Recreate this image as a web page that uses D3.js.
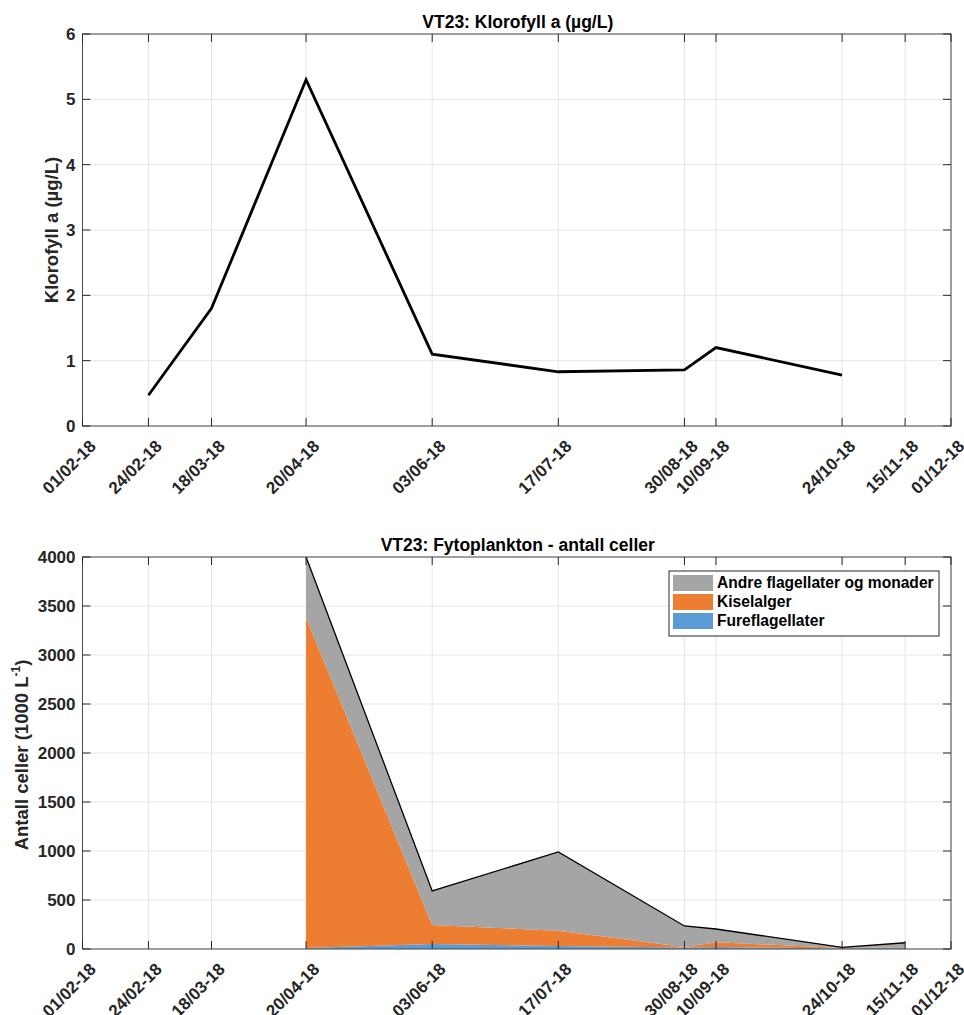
<!DOCTYPE html>
<html>
  <body style="margin:0;background:#fff">
    <div id="chart"></div>
    <script src="https://cdn.jsdelivr.net/npm/d3@7"></script>
    <script>
// VT23 chlorophyll and phytoplankton panels
var width = 964;
var height = 1015;

var tickDates = ["01/02-18", "24/02-18", "18/03-18", "20/04-18", "03/06-18", "17/07-18",
                 "30/08-18", "10/09-18", "24/10-18", "15/11-18", "01/12-18"];

// Klorofyll a
var chlDates = ["24/02-18", "18/03-18", "20/04-18", "03/06-18", "17/07-18", "30/08-18", "10/09-18", "24/10-18"];
var chlValues = [0.47, 1.8, 5.3, 1.1, 0.83, 0.86, 1.2, 0.78];

// Fytoplankton (1000 celler per L)
var cellDates = ["20/04-18", "03/06-18", "17/07-18", "30/08-18", "10/09-18", "24/10-18", "15/11-18"];
var fureflagellater = [10, 50, 30, 15, 20, 5, 15];
var kiselalger = [3370, 195, 155, 5, 50, 5, 5];
var andre = [620, 347, 805, 215, 134, 7, 44];

var groupNames = ["Fureflagellater", "Kiselalger", "Andre flagellater og monader"];
var groupColors = ["#5b9bd5", "#ed7d31", "#a5a5a5"];

var parse = d3.timeParse("%d/%m-%y");
var fontFam = "'Liberation Sans', Arial, sans-serif";

var svg = d3.select("#chart").append("svg")
  .attr("width", width)
  .attr("height", height)
  .style("font-family", fontFam);

var left = 82.5, right = 951;

var x = d3.scaleTime()
  .domain([parse("01/02-18"), parse("01/12-18")])
  .range([left, right]);

// draws the grid, title and labels for one panel
function panel(y, yTicks, title, top, bottom) {
  var g = svg.append("g");
  // grid
  g.selectAll(".vg").data(tickDates).join("line")
    .attr("x1", d => x(parse(d))).attr("x2", d => x(parse(d)))
    .attr("y1", top).attr("y2", bottom)
    .attr("stroke", "#e6e6e6").attr("stroke-width", 1);
  g.selectAll(".hg").data(yTicks).join("line")
    .attr("x1", left).attr("x2", right)
    .attr("y1", d => y(d)).attr("y2", d => y(d))
    .attr("stroke", "#e6e6e6").attr("stroke-width", 1);

  // title
  svg.append("text")
    .attr("x", (left + right) / 2 + 1).attr("y", top - 6)
    .attr("text-anchor", "middle")
    .attr("font-size", 17.5).attr("font-weight", "bold").attr("fill", "#000")
    .text(title);

  // x tick labels
  svg.selectAll(null).data(tickDates).join("text")
    .attr("transform", d => "translate(" + (x(parse(d)) + 6) + "," + (bottom + 13) + ") rotate(-45)")
    .attr("text-anchor", "end")
    .attr("dy", "0.7em")
    .attr("font-size", 17).attr("font-weight", "bold").attr("fill", "#262626")
    .text(d => d);

  // y tick labels
  svg.selectAll(null).data(yTicks).join("text")
    .attr("x", left - 7).attr("y", d => y(d))
    .attr("dy", "0.35em")
    .attr("text-anchor", "end")
    .attr("font-size", 17).attr("font-weight", "bold").attr("fill", "#262626")
    .text(d => d);
  return g;
}

function frame(y, yTicks, top, bottom) {
  var g = svg.append("g").attr("stroke", "#262626").attr("stroke-width", 1).attr("fill", "none");
  g.append("rect").attr("x", left).attr("y", top).attr("width", right - left).attr("height", bottom - top)
    .attr("stroke", "#4a4a4a");
  var tl = 8;
  g.selectAll(".xt").data(tickDates).join("path")
    .attr("d", d => {
      var xx = x(parse(d));
      return "M" + xx + "," + bottom + "v" + (-tl) + "M" + xx + "," + top + "v" + tl;
    });
  g.selectAll(".yt").data(yTicks).join("path")
    .attr("d", d => "M" + left + "," + y(d) + "h" + tl + "M" + right + "," + y(d) + "h" + (-tl));
}

// ---------- top panel ----------
var top1 = 34, bottom1 = 426;
var y1 = d3.scaleLinear().domain([0, 6]).range([bottom1, top1]);
var y1Ticks = [0, 1, 2, 3, 4, 5, 6];
panel(y1, y1Ticks, "VT23: Klorofyll a (\u00b5g/L)", top1, bottom1);

svg.append("path")
  .datum(chlDates.map((d, i) => [parse(d), chlValues[i]]))
  .attr("fill", "none").attr("stroke", "#000").attr("stroke-width", 2.8)
  .attr("stroke-linejoin", "miter")
  .attr("d", d3.line().x(d => x(d[0])).y(d => y1(d[1])));

frame(y1, y1Ticks, top1, bottom1);

svg.append("text")
  .attr("transform", "translate(58," + (top1 + bottom1) / 2 + ") rotate(-90)")
  .attr("text-anchor", "middle")
  .attr("font-size", 18.5).attr("font-weight", "bold").attr("fill", "#262626")
  .text("Klorofyll a (\u00b5g/L)");

// ---------- bottom panel ----------
var top2 = 557, bottom2 = 949;
var y2 = d3.scaleLinear().domain([0, 4000]).range([bottom2, top2]);
var y2Ticks = d3.range(0, 4001, 500);
panel(y2, y2Ticks, "VT23: Fytoplankton - antall celler", top2, bottom2);

var rows = cellDates.map((d, i) => ({
  date: parse(d),
  "Fureflagellater": fureflagellater[i],
  "Kiselalger": kiselalger[i],
  "Andre flagellater og monader": andre[i]
}));
var series = d3.stack().keys(groupNames)(rows);

svg.append("g").selectAll("path").data(series).join("path")
  .attr("fill", (d, i) => groupColors[i])
  .attr("d", d3.area().x(d => x(d.data.date)).y0(d => y2(d[0])).y1(d => y2(d[1])));

svg.append("path")
  .datum(series[2])
  .attr("fill", "none").attr("stroke", "#000").attr("stroke-width", 1.3)
  .attr("d", d3.line().x(d => x(d.data.date)).y(d => y2(d[1])));

frame(y2, y2Ticks, top2, bottom2);

var yl = svg.append("text")
  .attr("transform", "translate(28," + ((top2 + bottom2) / 2 + 2) + ") rotate(-90)")
  .attr("text-anchor", "middle")
  .attr("font-size", 18.5).attr("font-weight", "bold").attr("fill", "#262626");
yl.append("tspan").text("Antall celler (1000 L");
yl.append("tspan").attr("font-size", 12).attr("dy", -8).text("-1");
yl.append("tspan").attr("dy", 8).text(")");

// legend
var lg = svg.append("g").attr("transform", "translate(669,571)");
lg.append("rect").attr("width", 270).attr("height", 65)
  .attr("fill", "#fff").attr("stroke", "#262626").attr("stroke-width", 1);
var legOrder = [2, 1, 0];
lg.selectAll(".sw").data(legOrder).join("rect")
  .attr("x", 4).attr("y", (d, i) => 4 + i * 19)
  .attr("width", 40).attr("height", 16)
  .attr("fill", d => groupColors[d]);
lg.selectAll(".lt").data(legOrder).join("text")
  .attr("x", 48).attr("y", (d, i) => 12 + i * 19)
  .attr("dy", "0.35em")
  .attr("font-size", 15.6).attr("font-weight", "bold").attr("fill", "#000")
  .text(d => groupNames[d]);
</script>
  </body>
</html>
